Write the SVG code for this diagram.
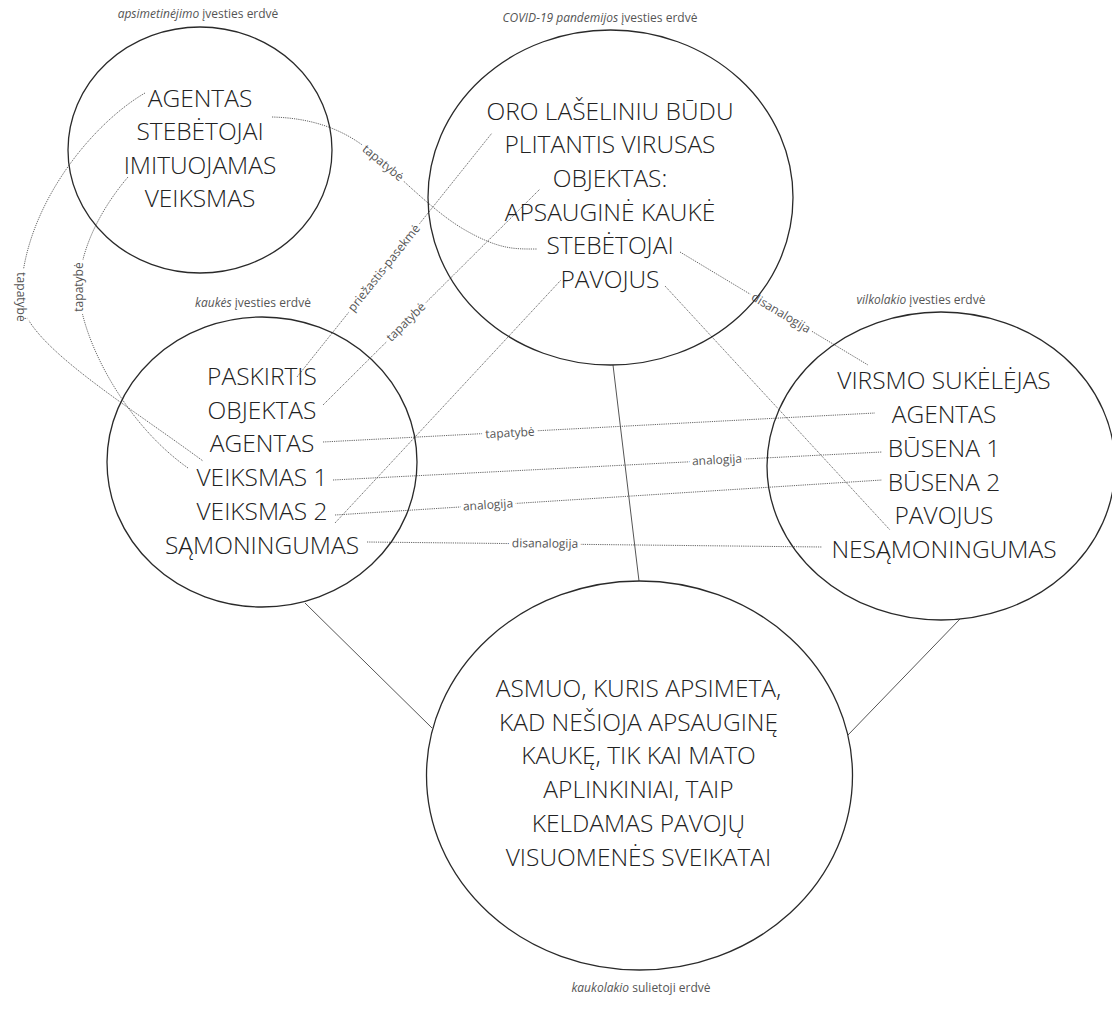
<svg xmlns="http://www.w3.org/2000/svg" width="1112" height="1015" viewBox="0 0 1112 1015">
  <style>
    .space { fill: none; stroke: #2a2a2a; stroke-width: 1.3; }
    .big { font-family: "Open Sans", "Liberation Sans", sans-serif; font-size: 24.5px; font-weight: 300; fill: #222; text-anchor: middle; }
    .title { font-family: "Open Sans", "Liberation Sans", sans-serif; font-size: 12px; fill: #555; text-anchor: middle; }
    .title .it { font-style: italic; }
    .link { fill: none; stroke: #555; stroke-width: 0.9; stroke-dasharray: 1.2 1; }
    .solid { fill: none; stroke: #555; stroke-width: 1; }
    .lbl { font-family: "Open Sans", "Liberation Sans", sans-serif; font-size: 12px; fill: #555; text-anchor: middle; stroke: #fff; stroke-width: 7; stroke-linejoin: round; paint-order: stroke; }
  </style>

  <rect width="1112" height="1015" fill="#fff"/>

  <!-- mappings between the spaces -->
  <g id="connectors">
    <!-- projections into the blend -->
    <line class="solid" x1="613" y1="365" x2="639" y2="581"/>
    <line class="solid" x1="305" y1="603" x2="432" y2="728"/>
    <line class="solid" x1="960" y1="619" x2="848" y2="735"/>

    <!-- apsimetinėjimo -> kaukės -->
    <path class="link" d="M145,93 C90,125 22,210 21,297 C20,340 120,400 203,461"/>
    <text class="lbl" transform="translate(21,297) rotate(90)" dy="4">tapatybė</text>
    <path class="link" d="M128,177 C100,210 80,250 79,287 C78,330 120,420 188,468"/>
    <text class="lbl" transform="translate(79,287) rotate(-90)" dy="4">tapatybė</text>

    <!-- apsimetinėjimo -> COVID -->
    <path class="link" d="M272,117 C310,118 340,128 365,147 S430,210 465,230 S515,249 537,249"/>
    <text class="lbl" transform="translate(383,163) rotate(40)" dy="4">tapatybė</text>

    <!-- kaukės -> COVID -->
    <line class="link" x1="297" y1="377" x2="492" y2="133"/>
    <text class="lbl" transform="translate(384,268) rotate(-51.4)" dy="4">priežastis-pasekmė</text>
    <line class="link" x1="323" y1="405" x2="540" y2="189"/>
    <text class="lbl" transform="translate(406,322) rotate(-44.8)" dy="4">tapatybė</text>
    <line class="link" x1="335" y1="523" x2="561" y2="280"/>

    <!-- COVID -> vilkolakio -->
    <line class="link" x1="680" y1="252" x2="868" y2="365"/>
    <text class="lbl" transform="translate(781,313) rotate(31)" dy="4">disanalogija</text>
    <line class="link" x1="665" y1="286" x2="890" y2="530"/>

    <!-- kaukės -> vilkolakio -->
    <line class="link" x1="323" y1="442" x2="875" y2="413"/>
    <text class="lbl" transform="translate(510,433) rotate(-3)" dy="4">tapatybė</text>
    <line class="link" x1="333" y1="480" x2="882" y2="452"/>
    <text class="lbl" transform="translate(717,460) rotate(-2.9)" dy="4">analogija</text>
    <line class="link" x1="335" y1="515" x2="882" y2="480"/>
    <text class="lbl" transform="translate(488,505) rotate(-3.7)" dy="4">analogija</text>
    <line class="link" x1="367" y1="542" x2="822" y2="547"/>
    <text class="lbl" transform="translate(545,543.5) rotate(0.6)" dy="4">disanalogija</text>
  </g>

  <g id="apsimetinejimo">
    <ellipse class="space" cx="200" cy="150" rx="132" ry="123"/>
    <text class="title" x="198" y="18"><tspan class="it">apsimetinėjimo</tspan> įvesties erdvė</text>
    <text class="big" x="200" y="106.5">AGENTAS</text>
    <text class="big" x="200" y="140">STEBĖTOJAI</text>
    <text class="big" x="200" y="173.5">IMITUOJAMAS</text>
    <text class="big" x="200" y="207">VEIKSMAS</text>
  </g>

  <g id="covid">
    <ellipse class="space" cx="610.5" cy="197.5" rx="182.5" ry="167.5"/>
    <text class="title" x="600" y="22"><tspan class="it">COVID-19 pandemijos</tspan> įvesties erdvė</text>
    <text class="big" x="610" y="119.5">ORO LAŠELINIU BŪDU</text>
    <text class="big" x="610" y="153.2">PLITANTIS VIRUSAS</text>
    <text class="big" x="610" y="186.9">OBJEKTAS:</text>
    <text class="big" x="610" y="220.6">APSAUGINĖ KAUKĖ</text>
    <text class="big" x="610" y="254.3">STEBĖTOJAI</text>
    <text class="big" x="610" y="288">PAVOJUS</text>
  </g>

  <g id="kaukes">
    <ellipse class="space" cx="262" cy="462" rx="155" ry="145"/>
    <text class="title" x="253" y="307"><tspan class="it">kaukės</tspan> įvesties erdvė</text>
    <text class="big" x="262" y="385">PASKIRTIS</text>
    <text class="big" x="262" y="418.7">OBJEKTAS</text>
    <text class="big" x="262" y="452.4">AGENTAS</text>
    <text class="big" x="262" y="486.1">VEIKSMAS 1</text>
    <text class="big" x="262" y="519.8">VEIKSMAS 2</text>
    <text class="big" x="262" y="553.5">SĄMONINGUMAS</text>
  </g>

  <g id="vilkolakio">
    <ellipse class="space" cx="941" cy="466" rx="174" ry="154"/>
    <text class="title" x="921" y="304"><tspan class="it">vilkolakio</tspan> įvesties erdvė</text>
    <text class="big" x="944" y="389">VIRSMO SUKĖLĖJAS</text>
    <text class="big" x="944" y="423">AGENTAS</text>
    <text class="big" x="944" y="456.8">BŪSENA 1</text>
    <text class="big" x="944" y="490.6">BŪSENA 2</text>
    <text class="big" x="944" y="524.4">PAVOJUS</text>
    <text class="big" x="944" y="558.2">NESĄMONINGUMAS</text>
  </g>

  <g id="kaukolakio">
    <ellipse class="space" cx="639.5" cy="775.5" rx="213" ry="194.5"/>
    <text class="title" x="641" y="992"><tspan class="it">kaukolakio</tspan> sulietoji erdvė</text>
    <text class="big" x="638.5" y="697">ASMUO, KURIS APSIMETA,</text>
    <text class="big" x="638.5" y="730.7">KAD NEŠIOJA APSAUGINĘ</text>
    <text class="big" x="638.5" y="764.4">KAUKĘ, TIK KAI MATO</text>
    <text class="big" x="638.5" y="798.1">APLINKINIAI, TAIP</text>
    <text class="big" x="638.5" y="831.8">KELDAMAS PAVOJŲ</text>
    <text class="big" x="638.5" y="865.5">VISUOMENĖS SVEIKATAI</text>
  </g>
</svg>
